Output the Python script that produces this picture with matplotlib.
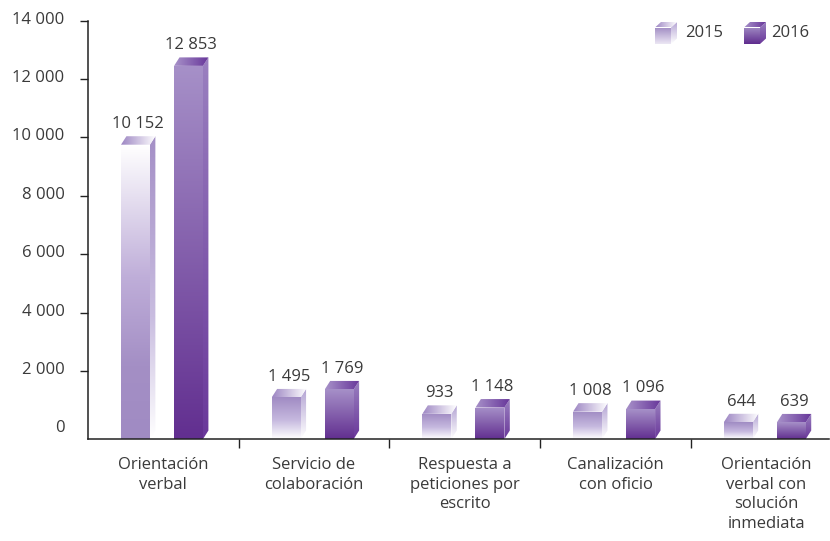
import numpy as np
import matplotlib
matplotlib.use("Agg")
import matplotlib.pyplot as plt
from matplotlib.patches import Polygon
from matplotlib.colors import to_rgb
from matplotlib.transforms import ScaledTranslation

# ---------------- data ----------------
categories = ["Orientación\nverbal", "Servicio de\ncolaboración",
              "Respuesta a\npeticiones por\nescrito", "Canalización\ncon oficio",
              "Orientación\nverbal con\nsolución\ninmediata"]
series_labels = ["2015", "2016"]
values_2015 = [10152, 1495, 933, 1008, 644]
values_2016 = [12853, 1769, 1148, 1096, 639]
value_labels_2015 = ["10 152", "1 495", "933", "1 008", "644"]
value_labels_2016 = ["12 853", "1 769", "1 148", "1 096", "639"]
y_ticks = [0, 2000, 4000, 6000, 8000, 10000, 12000, 14000]
y_tick_labels = ["0", "2 000", "4 000", "6 000", "8 000", "10 000", "12 000", "14 000"]

# ---------------- style ----------------
FONT = ["Open Sans", "DejaVu Sans"]
plt.rcParams["font.family"] = FONT
TXT = "#3a3a3a"
W, H = 830, 541

fig = plt.figure(figsize=(W / 100, H / 100), dpi=100)
ax = fig.add_axes([88 / W, (H - 439) / H, (829 - 88) / W, (439 - 20.7) / H])
YMIN = -330
ax.set_xlim(-0.5, 4.417)
ax.set_ylim(YMIN, 14000)


def grad_poly(a, verts, stops, vertical=True, zorder=2):
    poly = Polygon(verts, closed=True, facecolor="none", edgecolor="none")
    a.add_patch(poly)
    xs = [v[0] for v in verts]
    ys = [v[1] for v in verts]
    n = 96
    t = np.linspace(0, 1, n)
    pos = [s[0] for s in stops]
    cols = np.array([to_rgb(s[1]) for s in stops])
    img = np.stack([np.interp(t, pos, cols[:, k]) for k in range(3)], axis=1)
    if vertical:
        img = img[:, None, :]
    else:
        img = img[None, :, :]
    im = a.imshow(img, extent=[min(xs), max(xs), min(ys), max(ys)], origin="upper",
                  aspect="auto", interpolation="bilinear", zorder=zorder)
    im.set_clip_path(poly)


def bar3d(a, x0, w, dx, y0, ytop, dy, front, side, top):
    grad_poly(a, [(x0, y0), (x0 + w, y0), (x0 + w, ytop), (x0, ytop)], front)
    grad_poly(a, [(x0 + w, y0), (x0 + w + dx, y0 + dy), (x0 + w + dx, ytop + dy), (x0 + w, ytop)], side)
    grad_poly(a, [(x0, ytop), (x0 + w, ytop), (x0 + w + dx, ytop + dy), (x0 + dx, ytop + dy)], top,
              vertical=False)


# colour stops (top->bottom for vertical, left->right for horizontal)
F16 = [(0, "#a690c8"), (1, "#622f90")]
S16 = [(0, "#9a80c0"), (1, "#6a389a")]
T16 = [(0, "#a892c9"), (1, "#67369a")]
F15_tall = [(0, "#ffffff"), (0.45, "#bfaed9"), (0.75, "#a48fc5"), (1, "#a08bc3")]
S15_tall = [(0, "#a48fc6"), (0.6, "#c9bde0"), (1, "#ffffff")]
F15_small = [(0, "#a08bc3"), (0.55, "#c6b9df"), (1, "#ffffff")]
S15_small = [(0, "#b3a3d3"), (1, "#ffffff")]
T15 = [(0, "#9d86c3"), (1, "#ffffff")]

w = 0.192
dx = 0.036
dy = 290
off15, off16 = -0.281, 0.071
x = np.arange(len(categories))

for i in range(len(categories)):
    v15, v16 = values_2015[i], values_2016[i]
    tall = v15 > 5000
    bar3d(ax, x[i] + off15, w, dx, YMIN, v15 - 400, dy,
          F15_tall if tall else F15_small, S15_tall if tall else S15_small, T15)
    bar3d(ax, x[i] + off16, w, dx, YMIN, v16 - 400, dy, F16, S16, T16)
    ax.annotate(value_labels_2015[i], (x[i] + off15 + (w + dx) / 2, v15 - 110),
                xytext=(0, 3), textcoords="offset points", ha="center", va="bottom",
                fontsize=12, color=TXT)
    ax.annotate(value_labels_2016[i], (x[i] + off16 + (w + dx) / 2, v16 - 110),
                xytext=(0, 3), textcoords="offset points", ha="center", va="bottom",
                fontsize=12, color=TXT)

ax.set_xlim(-0.5, 4.417)
ax.set_ylim(YMIN, 14000)

for s in ["top", "right"]:
    ax.spines[s].set_visible(False)
for s in ["left", "bottom"]:
    ax.spines[s].set_color("#222222")
    ax.spines[s].set_linewidth(1.1)

ax.set_yticks(y_ticks)
ax.set_yticklabels(y_tick_labels, fontsize=12, color=TXT)
ax.tick_params(axis="y", direction="out", length=6, width=1, color="#222222", pad=11)
ax.yaxis.get_major_ticks()[0].tick1line.set_visible(False)
for lab in ax.get_yticklabels():
    lab.set_transform(lab.get_transform() + ScaledTranslation(0, 3 / 100, fig.dpi_scale_trans))

ax.set_xticks([0.5, 1.5, 2.5, 3.5])
ax.set_xticklabels([])
ax.tick_params(axis="x", which="major", direction="out", length=6.5, width=1, color="#222222")
ax.set_xticks(x, minor=True)
ax.set_xticklabels(categories, minor=True, fontsize=12, color=TXT, linespacing=1.3, va="top")
ax.tick_params(axis="x", which="minor", length=0, pad=13)

# ---------------- legend ----------------
lg = fig.add_axes([0, 0, 1, 1])
lg.set_xlim(0, W)
lg.set_ylim(0, H)
lg.axis("off")


def icon(xl, stops_front, stops_side, stops_top):
    # pixel coords (y measured from bottom of figure)
    yb, yt = H - 44, H - 27.5
    bar3d(lg, xl, 16, 6, yb, yt, 5.5, stops_front, stops_side, stops_top)


icon(655, [(0, "#a08bc3"), (1, "#ece7f4")], [(0, "#b6a6d5"), (1, "#ffffff")], T15)
icon(744, [(0, "#a08ac3"), (1, "#5f2c8e")], S16, T16)
lg.text(685, H - 33, series_labels[0], fontsize=12, color=TXT, ha="left", va="center")
lg.text(771, H - 33, series_labels[1], fontsize=12, color=TXT, ha="left", va="center")
lg.set_xlim(0, W)
lg.set_ylim(0, H)

fig.savefig("out.png", dpi=100)
